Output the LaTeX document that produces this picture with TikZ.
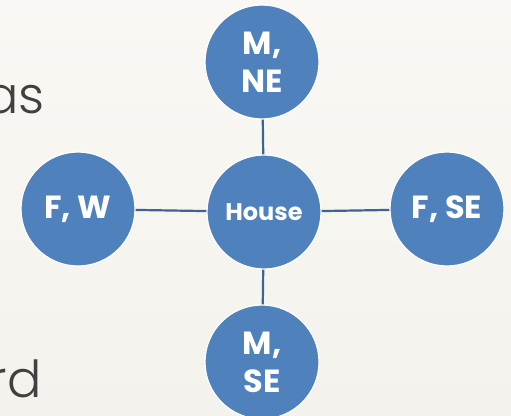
\documentclass[tikz,border=0pt]{standalone}
\usepackage{fontspec}
\setmainfont{Poppins}
\newfontfamily\lightfont{Poppins}[UprightFont=* Light]
\definecolor{bubble}{HTML}{4F81BD}
\definecolor{link}{HTML}{3D6592}
\definecolor{ink}{HTML}{404040}
\definecolor{paperTop}{HTML}{F9F8F4}
\definecolor{paperBot}{HTML}{F3F2EC}
\tikzset{
  bubblenode/.style={circle, fill=bubble, draw=white, line width=1.2pt,
    minimum size=114pt, inner sep=0pt, text=white, align=center,
    font=\fontsize{32}{38}\selectfont\bfseries},
  hubnode/.style={bubblenode, font=\fontsize{24}{30}\selectfont\bfseries},
  linkline/.style={draw=link, line width=2.2pt},
  bodytext/.style={text=ink, inner sep=0pt, font=\lightfont\fontsize{51}{60}\selectfont}
}
\begin{document}
\begin{tikzpicture}[x=1pt, y=-1pt]
  \useasboundingbox (0,0) rectangle (511,415);
  \clip (0,0) rectangle (511,415);
  \shade[top color=paperTop, bottom color=paperBot] (0,0) rectangle (511,415);

  % fragments of slide body text, running off the left edge
  \node[bodytext, anchor=base east] (txtas) at (45,113) {as};
  \node[bodytext, anchor=base east] (txtrd) at (42,397) {rd};

  % hub and satellites
  \node[hubnode] (house) at (264,212) {House};
  \node[bubblenode] (mne) at (262,62) {M,\\NE};
  \node[bubblenode] (fw) at (78,209) {F, W};
  \node[bubblenode] (fse) at (447,209) {F, SE};
  \node[bubblenode] (mse) at (262,362) {M,\\SE};

  % spokes
  \draw[linkline] (mne) -- (house);
  \draw[linkline] (fw) -- (house);
  \draw[linkline] (house) -- (fse);
  \draw[linkline] (house) -- (mse);
\end{tikzpicture}
\end{document}
